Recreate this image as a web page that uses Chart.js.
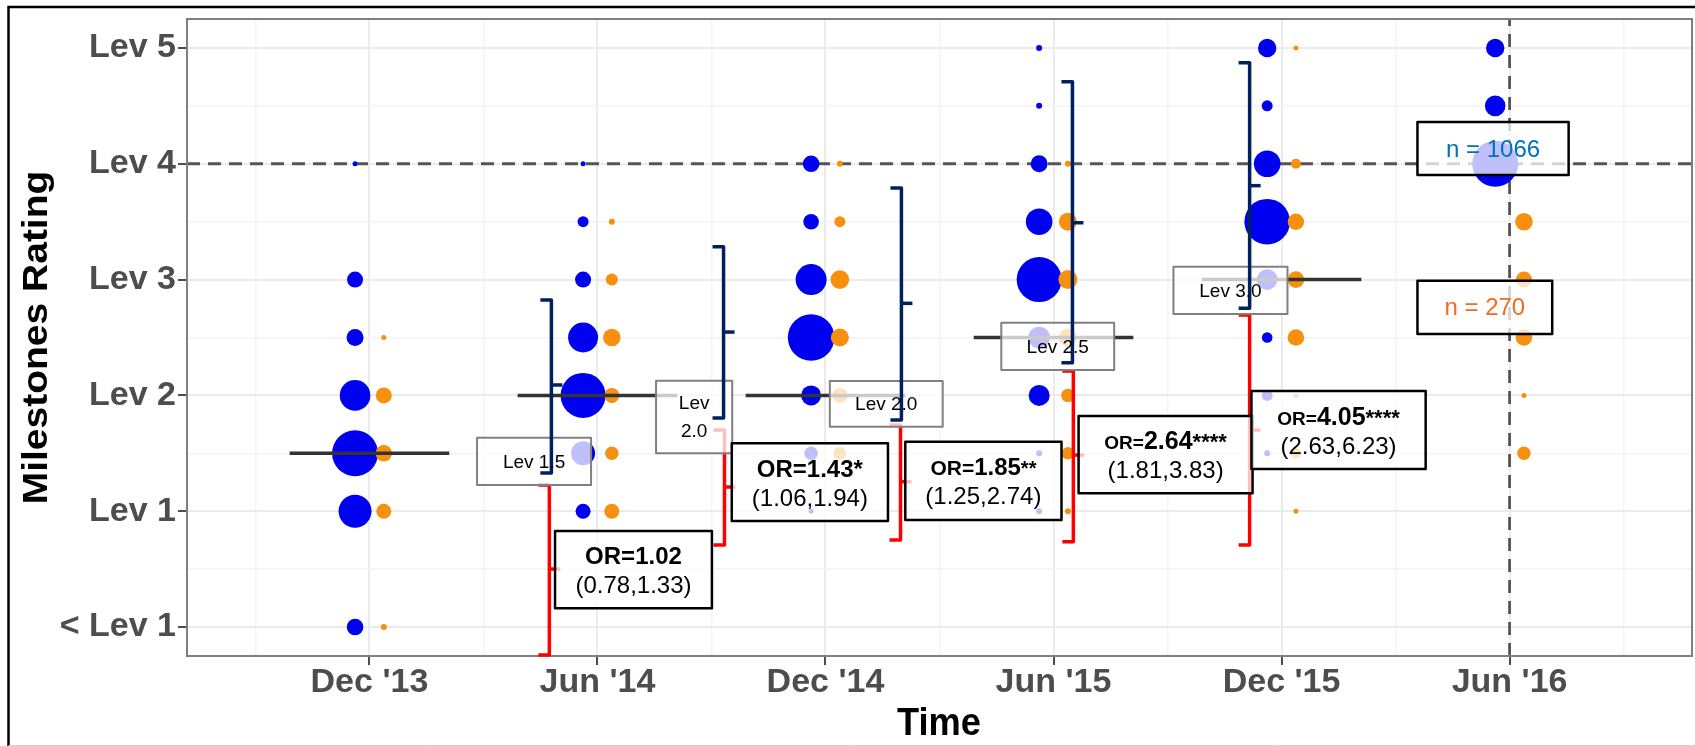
<!DOCTYPE html>
<html><head><meta charset="utf-8">
<script src="https://cdn.jsdelivr.net/npm/chart.js@4.4.1/dist/chart.umd.min.js"></script>
<style>html,body{margin:0;padding:0;background:#fff;overflow:hidden}canvas{display:block}</style>
</head><body>
<canvas id="c" width="1695" height="746"></canvas>
<script>
// ---------------- data ----------------
const timeLabels = ["Dec '13", "Jun '14", "Dec '14", "Jun '15", "Dec '15", "Jun '16"];
const levelLabels = ["< Lev 1", "Lev 1", "Lev 2", "Lev 3", "Lev 4", "Lev 5"];
const ratingSteps = [0, 0.5, 1, 1.5, 2, 2.5, 3, 3.5, 4, 4.5, 5];
// bubble size (radius) per time point x rating step
const blueSize = [
  [8.3, 0, 16.5, 23, 15.3, 8.5, 8, 0, 2.5, 0, 0],
  [0, 0, 7.5, 12, 22.5, 15, 8, 5.5, 2.5, 0, 0],
  [0, 0, 2.5, 6.7, 10, 23.3, 15.5, 7.8, 8.3, 0, 0],
  [0, 0, 3, 3, 10.5, 10.8, 22.5, 13.3, 8.5, 3, 3],
  [0, 0, 0, 3, 5.5, 5.3, 10.3, 22.8, 13.3, 5.5, 9.2],
  [0, 0, 0, 0, 0, 0, 0, 0, 23, 10.3, 9.2]
];
const orangeSize = [
  [3, 0, 7.5, 8.3, 8, 2.5, 0, 0, 0, 0, 0],
  [0, 0, 7.5, 6.7, 7.5, 8.7, 6, 3, 0, 0, 0],
  [0, 0, 0, 6.3, 7.5, 9, 9.3, 5.5, 3, 0, 0],
  [0, 0, 3, 6.2, 6.7, 9, 9.5, 9, 3, 0, 0],
  [0, 0, 2.5, 5.3, 2.5, 8.3, 8.3, 8.2, 5, 0, 2.5],
  [0, 0, 0, 6.7, 2.5, 8.3, 8, 8.8, 0, 0, 0]
];
const medianRating = [1.5, 2, 2, 2.5, 3, null];
const targetRating = 4;      // horizontal dashed line (Lev 4)
const targetTime = 5;        // vertical dashed line (Jun '16)
const oddsRatio = [1.02, 1.43, 1.85, 2.64, 4.05];
const ciLow = [0.78, 1.06, 1.25, 1.81, 2.63];
const ciHigh = [1.33, 1.94, 2.74, 3.83, 6.23];
const stars = ["", "*", "**", "****", "****"];
const boxLabels = [["Lev 1.5"], ["Lev", "2.0"], ["Lev 2.0"], ["Lev 2.5"], ["Lev 3.0"]];
const nBlue = 1066, nOrange = 270;

// ---------------- annotation geometry (data units) ----------------
const levBoxGeo = [
  [0.472, 0.972, 1.226, 1.635], [1.257, 1.591, 1.500, 2.127], [2.019, 2.514, 1.730, 2.124],
  [2.771, 3.266, 2.219, 2.628], [3.526, 4.026, 2.703, 3.111]
];
const orBoxGeo = [
  [0.814, 1.502, 0.162, 0.829], [1.589, 2.274, 0.916, 1.586], [2.350, 3.035, 0.924, 1.600],
  [3.110, 3.873, 1.155, 1.822], [3.868, 4.632, 1.365, 2.038]
];
const nBoxGeo = [[4.596, 5.259, 3.903, 4.361], [4.596, 5.187, 2.530, 2.990]];
// brackets: [x, top, bottom, middle]
const navyBrackets = [
  [0.798, 2.824, 1.330, 2.090], [1.553, 3.284, 1.805, 2.547], [2.333, 3.791, 1.788, 2.795],
  [3.083, 4.709, 2.282, 3.491], [3.860, 4.873, 2.752, 3.811]
];
const redBrackets = [
  [0.789, 1.226, -0.241, 0.501], [1.557, 1.701, 0.708, 1.209], [2.329, 1.744, 0.752, 1.255],
  [3.087, 2.211, 0.737, 1.485], [3.860, 2.694, 0.708, 1.701]
];

// ---------------- build datasets ----------------
const FONT = "'Liberation Sans', Arial, Helvetica, sans-serif";
const BLUE = '#0000F0', ORANGE = '#F7900F';
const bluePts = [], orangePts = [];
timeLabels.forEach((t, i) => ratingSteps.forEach((lv, j) => {
  if (blueSize[i][j] > 0) bluePts.push({x: i - 0.063, y: lv, r: blueSize[i][j]});
  if (orangeSize[i][j] > 0) orangePts.push({x: i + 0.063, y: lv, r: orangeSize[i][j]});
}));
const datasets = [];
datasets.push({type: 'line', data: [{x: -0.8, y: targetRating}, {x: 5.8, y: targetRating}],
  borderColor: '#555555', borderWidth: 2.8, borderDash: [13, 8], pointRadius: 0, fill: false, order: 5});
datasets.push({type: 'line', data: [{x: targetTime, y: -0.25}, {x: targetTime, y: 5.25}],
  borderColor: '#555555', borderWidth: 2.8, borderDash: [13, 8], pointRadius: 0, fill: false, order: 5});
datasets.push({type: 'bubble', data: bluePts, backgroundColor: BLUE, borderWidth: 0, order: 4});
datasets.push({type: 'bubble', data: orangePts, backgroundColor: ORANGE, borderWidth: 0, order: 3});
medianRating.forEach((m, i) => {
  if (m === null) return;
  datasets.push({type: 'line', data: [{x: i - 0.35, y: m}, {x: i + 0.35, y: m}],
    borderColor: '#333333', borderWidth: 3.5, pointRadius: 0, fill: false, order: 1});
});

const isInt = v => Math.abs(v - Math.round(v)) < 1e-9;
const gridColor = c => (c.tick && isInt(c.tick.value)) ? '#ebebeb' : '#f3f3f3';
const gridWidth = c => (c.tick && isInt(c.tick.value)) ? 2 : 1.5;
const tickColor = c => (c.tick && isInt(c.tick.value)) ? '#4d4d4d' : 'rgba(0,0,0,0)';

function rich(ctx, parts, cx, baseY) {
  let w = 0;
  parts.forEach(p => { ctx.font = p[1]; w += ctx.measureText(p[0]).width; });
  let x = cx - w / 2;
  ctx.textAlign = 'left'; ctx.textBaseline = 'alphabetic';
  parts.forEach(p => { ctx.font = p[1]; ctx.fillText(p[0], x, baseY); x += ctx.measureText(p[0]).width; });
}

const overlay = {
  id: 'overlay',
  afterDatasetsDraw(chart) {
    const ctx = chart.ctx, xs = chart.scales.x, ys = chart.scales.y, a = chart.chartArea;
    const X = v => xs.getPixelForValue(v), Y = v => ys.getPixelForValue(v);
    ctx.save();
    // panel border
    ctx.strokeStyle = '#7f7f7f'; ctx.lineWidth = 2;
    ctx.strokeRect(a.left, a.top, a.right - a.left, a.bottom - a.top);

    const bracket = (b, color) => {
      const x = X(b[0]), t = Y(b[1]), bo = Y(b[2]), m = Y(b[3]);
      ctx.strokeStyle = color; ctx.lineWidth = 3.5; ctx.lineJoin = 'round'; ctx.lineCap = 'butt';
      ctx.beginPath(); ctx.moveTo(x - 11, t); ctx.lineTo(x, t); ctx.lineTo(x, bo); ctx.lineTo(x - 11, bo); ctx.stroke();
      ctx.beginPath(); ctx.moveTo(x, m); ctx.lineTo(x + 11, m); ctx.stroke();
    };
    const box = (g, stroke, lw) => {
      const x0 = X(g[0]), x1 = X(g[1]), y0 = Y(g[3]), y1 = Y(g[2]);
      ctx.fillStyle = 'rgba(255,255,255,0.75)';
      ctx.fillRect(x0, y0, x1 - x0, y1 - y0);
      ctx.strokeStyle = stroke; ctx.lineWidth = lw;
      ctx.strokeRect(x0, y0, x1 - x0, y1 - y0);
      return {cx: (x0 + x1) / 2, cy: (y0 + y1) / 2};
    };
    redBrackets.forEach(b => bracket(b, '#FF0000'));
    const levCenters = levBoxGeo.map(g => box(g, '#808080', 2));
    const orCenters = orBoxGeo.map(g => box(g, '#000000', 2.5));
    const nCenters = nBoxGeo.map(g => box(g, '#000000', 2.5));
    navyBrackets.forEach(b => bracket(b, '#002060'));

    // level box texts
    ctx.fillStyle = '#000'; ctx.textAlign = 'center'; ctx.textBaseline = 'middle';
    ctx.font = '19px ' + FONT;
    levCenters.forEach((c, i) => {
      const lines = boxLabels[i];
      if (lines.length === 1) ctx.fillText(lines[0], c.cx, c.cy + 1);
      else { ctx.fillText(lines[0], c.cx, c.cy - 13); ctx.fillText(lines[1], c.cx, c.cy + 15); }
    });
    // OR texts
    orCenters.forEach((c, i) => {
      ctx.fillStyle = '#000';
      const num = oddsRatio[i].toFixed(2);
      let parts;
      if (i < 2) parts = [['OR=' + num + stars[i], 'bold 24px ' + FONT]];
      else if (i === 2) parts = [['OR=', 'bold 21px ' + FONT], [num, 'bold 24px ' + FONT], [stars[i], 'bold 20px ' + FONT]];
      else parts = [['OR=', 'bold 19px ' + FONT], [num, 'bold 25px ' + FONT], [stars[i], 'bold 22px ' + FONT]];
      rich(ctx, parts, c.cx, c.cy - 5.4);
      rich(ctx, [['(' + ciLow[i].toFixed(2) + ',' + ciHigh[i].toFixed(2) + ')', '24px ' + FONT]], c.cx, c.cy + 23.6);
    });
    // n texts
    ctx.textAlign = 'center'; ctx.textBaseline = 'middle'; ctx.font = '24px ' + FONT;
    ctx.fillStyle = '#0070C0'; ctx.fillText('n = ' + nBlue, nCenters[0].cx, nCenters[0].cy + 1.5);
    ctx.fillStyle = '#F46A1F'; ctx.fillText('n = ' + nOrange, nCenters[1].cx, nCenters[1].cy + 1);
    ctx.restore();
  },
  afterDraw(chart) {
    const ctx = chart.ctx;
    ctx.save();
    ctx.fillStyle = '#000';
    ctx.font = 'bold 39px ' + FONT;
    ctx.textAlign = 'center'; ctx.textBaseline = 'alphabetic';
    // x title
    ctx.save(); ctx.translate(939, 735); ctx.scale(0.93, 1); ctx.fillText('Time', 0, 0); ctx.restore();
    // y title
    ctx.save(); ctx.translate(47, 337.5); ctx.rotate(-Math.PI / 2); ctx.scale(1, 0.9); ctx.fillText('Milestones Rating', 0, 0); ctx.restore();
    // outer frame
    ctx.strokeStyle = '#000'; ctx.lineWidth = 2.5;
    ctx.beginPath(); ctx.moveTo(8.5, 746); ctx.lineTo(8.5, 7); ctx.lineTo(1695, 7); ctx.stroke();
    ctx.strokeStyle = '#d0d0d0'; ctx.lineWidth = 1;
    ctx.beginPath(); ctx.moveTo(8.5, 745.5); ctx.lineTo(1695, 745.5); ctx.stroke();
    ctx.restore();
  }
};

const xTickValues = [-0.5, 0, 0.5, 1, 1.5, 2, 2.5, 3, 3.5, 4, 4.5, 5, 5.5];
const yTickValues = ratingSteps;

new Chart(document.getElementById('c'), {
  type: 'bubble',
  data: {datasets},
  options: {
    responsive: false, animation: false, events: [], devicePixelRatio: 1,
    layout: {autoPadding: false, padding: {left: 0, top: 19, right: 3, bottom: 0}},
    plugins: {legend: {display: false}, tooltip: {enabled: false}},
    scales: {
      x: {
        type: 'linear', min: -0.8, max: 5.8,
        afterBuildTicks: s => { s.ticks = xTickValues.map(v => ({value: v})); },
        afterFit: s => { s.height = 90; s.paddingLeft = 0; s.paddingRight = 0; },
        ticks: {autoSkip: false, maxRotation: 0, minRotation: 0, padding: -3, color: '#4d4d4d',
          font: {family: FONT, size: 34, weight: 'bold'},
          callback: v => isInt(v) ? timeLabels[Math.round(v)] : ''},
        grid: {color: gridColor, lineWidth: gridWidth, tickColor: tickColor, tickLength: 9, tickWidth: 2},
        border: {display: false}
      },
      y: {
        type: 'linear', min: -0.25, max: 5.25,
        afterBuildTicks: s => { s.ticks = yTickValues.map(v => ({value: v})); },
        afterFit: s => { s.width = 187; s.paddingTop = 0; s.paddingBottom = 0; },
        ticks: {autoSkip: false, padding: 2, color: '#4d4d4d',
          font: {family: FONT, size: 34, weight: 'bold'},
          callback: v => isInt(v) ? levelLabels[Math.round(v)] : ''},
        grid: {color: gridColor, lineWidth: gridWidth, tickColor: tickColor, tickLength: 9, tickWidth: 2},
        border: {display: false}
      }
    }
  },
  plugins: [overlay]
});
</script></body></html>
